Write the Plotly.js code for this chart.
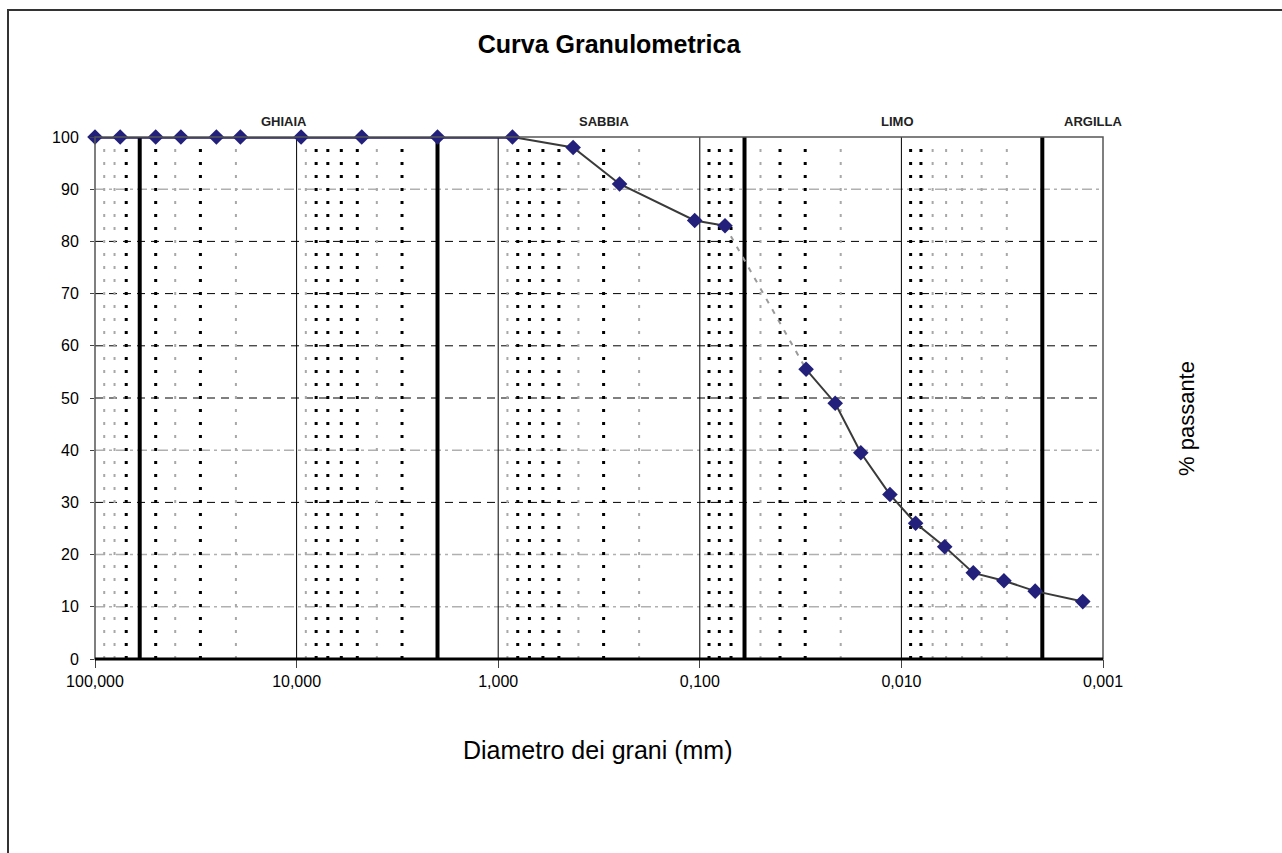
<!DOCTYPE html>
<html>
<head>
<meta charset="utf-8">
<script src="https://cdn.plot.ly/plotly-3.0.1.min.js"></script>
<style>html,body{margin:0;padding:0;background:#fff;}#chart{width:1282px;height:853px;}</style>
</head>
<body>
<div id="chart"></div>
<script>
// ---- data ----
const diameters = [100, 75, 50, 37.5, 25, 19, 9.5, 4.75, 2, 0.85, 0.425, 0.25, 0.106, 0.075,
  0.0297, 0.0213, 0.0159, 0.0114, 0.0085, 0.0061, 0.0044, 0.0031, 0.00217, 0.00126];
const passing = [100, 100, 100, 100, 100, 100, 100, 100, 100, 100, 98, 91, 84, 83,
  55.5, 49, 39.5, 31.5, 26, 21.5, 16.5, 15, 13, 11];
const xTickVals = [100, 10, 1, 0.1, 0.01, 0.001];
const xTickText = ["100,000", "10,000", "1,000", "0,100", "0,010", "0,001"];
const classBounds = [60, 2, 0.06, 0.002];
const decadeLines = [10, 1, 0.1, 0.01];
const blackDotted = [70, 50, 30, 8, 7, 6, 5, 3, 0.8, 0.7, 0.6, 0.5, 0.3, 0.09, 0.08, 0.07, 0.04, 0.03, 0.009, 0.008];
const grayDotted = [90, 80, 40, 20, 9, 4, 0.9, 0.4, 0.2, 0.05, 0.02, 0.007, 0.006, 0.005, 0.004, 0.003];
const hBlack = [30, 50, 60, 70, 80];
const hGray = [10, 20, 40, 90];
const classNames = ["GHIAIA", "SABBIA", "LIMO", "ARGILLA"];
const title = "Curva Granulometrica";
const xTitle = "Diametro dei grani (mm)";
const yTitle = "% passante";

// ---- helpers ----
function vLines(vals, y0, y1) {
  const x = [], y = [];
  vals.forEach(v => { x.push(v, v, null); y.push(y0, y1, null); });
  return {x, y};
}
const FONT = "Liberation Sans, Arial, sans-serif";
const traces = [];
function addV(vals, y0, y1, line) {
  const d = vLines(vals, y0, y1);
  traces.push({x: d.x, y: d.y, mode: 'lines', line: line, hoverinfo: 'skip', showlegend: false});
}
addV(grayDotted, 0, 98, {color: '#a8a8a8', width: 2, dash: '3px,10px'});
addV(blackDotted, 0, 98, {color: '#000', width: 3, dash: '3px,10px'});
addV(decadeLines, 0, 100, {color: '#000', width: 1});
addV(classBounds, 0, 100, {color: '#000', width: 4});

// curve segments
const iNavyEnd = diameters.indexOf(0.85);
const iGapA = diameters.indexOf(0.075);
const iGapB = diameters.indexOf(0.0297);
traces.push({x: diameters.slice(0, iNavyEnd + 1), y: passing.slice(0, iNavyEnd + 1), mode: 'lines',
  line: {color: '#1c1660', width: 3.5}, hoverinfo: 'skip', showlegend: false, cliponaxis: false});
traces.push({x: diameters.slice(iNavyEnd, iGapA + 1), y: passing.slice(iNavyEnd, iGapA + 1), mode: 'lines',
  line: {color: '#3a3a3a', width: 2}, hoverinfo: 'skip', showlegend: false});
traces.push({x: diameters.slice(iGapA, iGapB + 1), y: passing.slice(iGapA, iGapB + 1), mode: 'lines',
  line: {color: '#9a9a9a', width: 2, dash: '5px,7px'}, hoverinfo: 'skip', showlegend: false});
traces.push({x: diameters.slice(iGapB), y: passing.slice(iGapB), mode: 'lines',
  line: {color: '#3a3a3a', width: 2}, hoverinfo: 'skip', showlegend: false});
traces.push({x: diameters, y: passing, mode: 'markers', cliponaxis: false,
  marker: {symbol: 'diamond', size: 12, color: '#22207a'}, showlegend: false});

// ---- layout ----
const W = 1282, H = 853, L = 95, R = 1103, T = 137, B = 659;
const pw = R - L, ph = B - T;
const px = v => (v - L) / pw;
const py = v => (B - v) / ph;

const shapes = [];
hBlack.forEach(v => shapes.push({type: 'line', xref: 'paper', yref: 'y', x0: 0, x1: 1, y0: v, y1: v,
  line: {color: '#000', width: 1, dash: '8px,6px'}, layer: 'below'}));
hGray.forEach(v => shapes.push({type: 'line', xref: 'paper', yref: 'y', x0: 0, x1: 1, y0: v, y1: v,
  line: {color: '#b0b0b0', width: 1.5, dash: '10px,4px,3px,4px'}, layer: 'below'}));
// plot frame
shapes.push({type: 'rect', xref: 'paper', yref: 'paper', x0: 0, x1: 1, y0: 0, y1: 1,
  line: {color: '#555', width: 1.5}, layer: 'above'});
shapes.push({type: 'line', xref: 'paper', yref: 'paper', x0: 0, x1: 1, y0: 0, y1: 0,
  line: {color: '#000', width: 3}, layer: 'above'});
// outer frame
shapes.push({type: 'path', xref: 'paper', yref: 'paper',
  path: `M ${px(8)} ${py(853)} L ${px(8)} ${py(10)} L ${px(1282)} ${py(10)}`,
  line: {color: '#333', width: 2}});

const labelX = [284, 604, 897, 1093];
const annotations = classNames.map((t, i) => ({
  text: '<b>' + t + '</b>', xref: 'paper', yref: 'paper', x: px(labelX[i]), y: py(122),
  showarrow: false, xanchor: 'center', yanchor: 'middle', font: {family: FONT, size: 13, color: '#222'}
}));
annotations.push({text: xTitle, xref: 'paper', yref: 'paper', x: px(598), y: py(750),
  showarrow: false, xanchor: 'center', yanchor: 'middle', font: {family: FONT, size: 25, color: '#000'}});
annotations.push({text: yTitle, xref: 'paper', yref: 'paper', x: px(1186), y: py(419),
  showarrow: false, textangle: -90, xanchor: 'center', yanchor: 'middle', font: {family: FONT, size: 22, color: '#000'}});

const layout = {
  width: W, height: H,
  margin: {l: L, r: W - R, t: T, b: H - B, pad: 0},
  paper_bgcolor: '#fff', plot_bgcolor: '#fff',
  title: {text: '<b>' + title + '</b>', x: 609 / W, xanchor: 'center', y: 1 - 44 / H, yanchor: 'middle',
    font: {family: FONT, size: 25, color: '#000'}},
  xaxis: {type: 'log', range: [2, -3], tickvals: xTickVals, ticktext: xTickText,
    showgrid: false, zeroline: false, showline: false, ticks: 'outside', ticklen: 8, tickcolor: '#444',
    tickfont: {family: FONT, size: 16, color: '#000'}, fixedrange: true},
  yaxis: {range: [0, 100], dtick: 10, showgrid: false, zeroline: false, showline: false,
    ticks: 'outside', ticklen: 4, tickcolor: '#444', ticklabelstandoff: 8,
    tickfont: {family: FONT, size: 16, color: '#000'}, fixedrange: true},
  shapes: shapes,
  annotations: annotations,
  showlegend: false
};

Plotly.newPlot('chart', traces, layout, {displayModeBar: false, staticPlot: true});
</script>
</body>
</html>
